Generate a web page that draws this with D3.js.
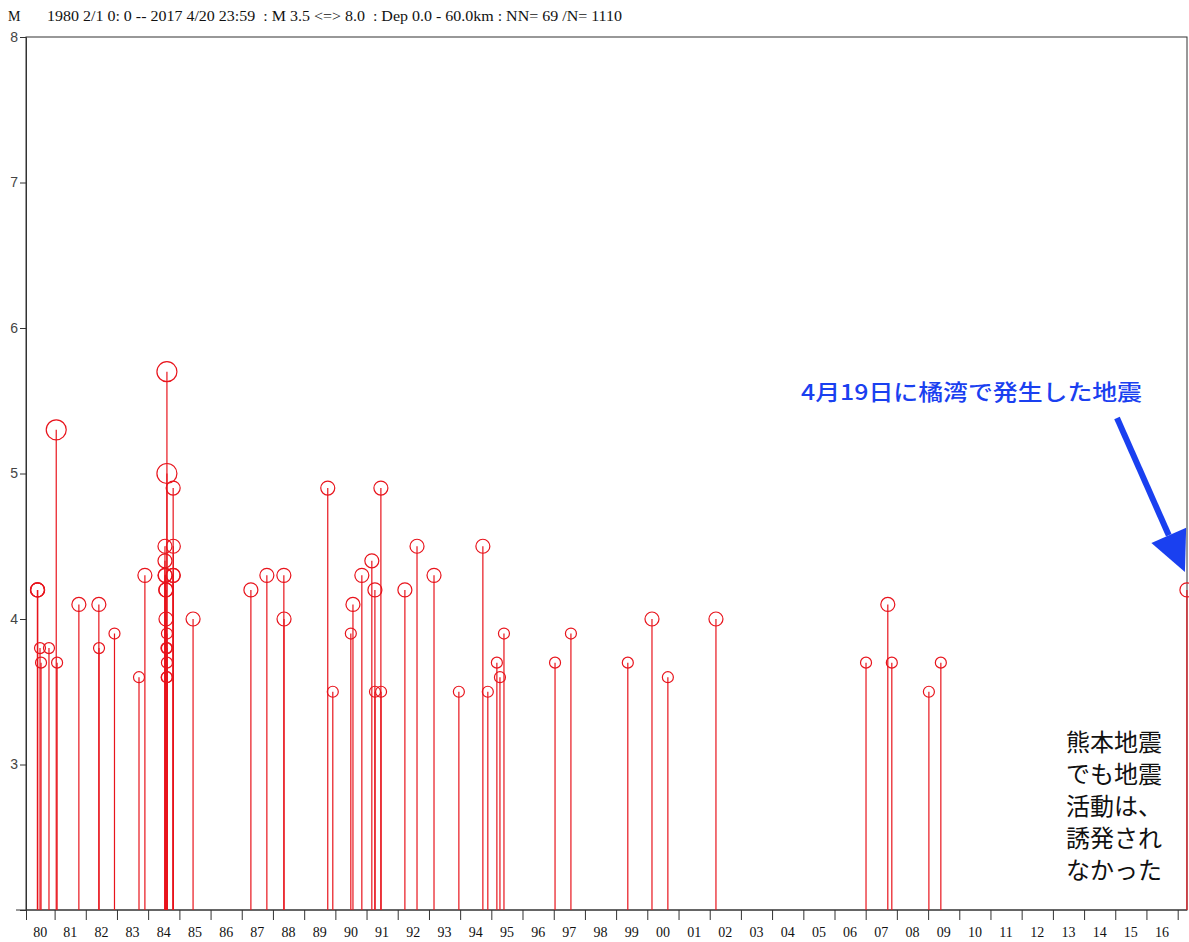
<!DOCTYPE html>
<html lang="ja">
<head>
<meta charset="UTF-8">
<title>M-T図</title>
<script src="https://d3js.org/d3.v7.min.js"></script>
<style>
  body { margin: 0; background: #fff; }
  svg { display: block; }
  .serif { font-family: "Liberation Serif", "DejaVu Serif", serif; fill: #111; }
  .jp { font-family: "Noto Sans CJK JP", sans-serif; }
</style>
</head>
<body>
<div id="chart"></div>
<script>
// 地震のデータ（発生日とマグニチュード）
const eventDates = [
  "1980-06-14", "1980-06-15", "1980-06-16", "1980-07-14", "1980-07-26", "1980-10-27",
  "1981-01-20", "1981-01-30", "1981-10-12",
  "1982-06-03", "1982-06-05", "1982-12-03",
  "1983-09-16", "1983-11-24",
  "1984-08-08", "1984-08-08", "1984-10-20", "1984-07-16", "1984-10-22", "1984-07-16",
  "1984-07-16", "1984-10-22", "1984-07-28", "1984-07-28", "1984-08-08", "1984-08-08",
  "1984-08-08", "1984-08-08", "1984-07-20", "1984-07-25", "1984-08-02", "1984-08-05",
  "1984-10-18",
  "1985-06-10",
  "1987-04-18", "1987-10-22",
  "1988-05-08", "1988-05-10",
  "1989-10-04", "1989-12-02",
  "1990-07-01", "1990-07-26", "1990-11-07",
  "1991-03-04", "1991-04-09", "1991-04-10", "1991-06-18", "1991-06-20",
  "1992-03-25", "1992-08-14",
  "1993-03-01", "1993-12-17",
  "1994-09-24", "1994-11-21",
  "1995-03-07", "1995-04-12", "1995-05-29",
  "1997-01-16", "1997-07-21",
  "1999-05-18",
  "2000-02-25", "2000-08-29",
  "2002-03-15",
  "2007-01-05", "2007-09-17", "2007-11-03",
  "2009-01-10", "2009-05-30",
  "2017-04-19"
];
const magnitudes = [
  4.2, 4.2, 4.2, 3.8, 3.7, 3.8,
  5.3, 3.7, 4.1,
  4.1, 3.8, 3.9,
  3.6, 4.3,
  5.7, 5.0, 4.9, 4.5, 4.5, 4.4,
  4.3, 4.3, 4.2, 4.0, 3.9, 3.8,
  3.7, 3.6, 4.3, 4.2, 3.8, 3.6,
  4.3,
  4.0,
  4.2, 4.3,
  4.3, 4.0,
  4.9, 3.5,
  3.9, 4.1, 4.3,
  4.4, 4.2, 3.5, 4.9, 3.5,
  4.2, 4.5,
  4.3, 3.5,
  4.5, 3.5,
  3.7, 3.6, 3.9,
  3.7, 3.9,
  3.7,
  4.0, 3.6,
  4.0,
  3.7, 4.1, 3.7,
  3.5, 3.7,
  4.2
];
const magTicks = [3, 4, 5, 6, 7, 8];
const labelYears = d3.range(1980, 2017);
const periodStart = "1980-02-01";
const periodEnd = "2017-04-20";
const headerText = "1980 2/1 0: 0 -- 2017 4/20 23:59  : M 3.5 <=> 8.0  : Dep 0.0 - 60.0km : NN= 69 /N= 1110";
const arrowLabel = "4月19日に橘湾で発生した地震";
const noteLines = ["熊本地震", "でも地震", "活動は、", "誘発され", "なかった"];

const W = 1189, H = 942;
const plotL = 26, plotR = 1187, plotT = 37, plotB = 910;
const parse = d3.timeParse("%Y-%m-%d");

const data = eventDates.map((d, i) => ({ date: parse(d), mag: magnitudes[i] }));

const svg = d3.select("#chart").append("svg")
  .attr("width", W).attr("height", H);

const x = d3.scaleTime()
  .domain([parse(periodStart), parse(periodEnd)])
  .range([plotL, plotR]);
const y = d3.scaleLinear().domain([2, 8]).range([plotB, plotT]);

// 見出し
svg.append("text").attr("class", "serif")
  .attr("x", 8).attr("y", 21).attr("font-size", 14).text("M");
svg.append("text").attr("class", "serif")
  .attr("x", 47).attr("y", 21).attr("font-size", 14)
  .attr("textLength", 575).attr("lengthAdjust", "spacingAndGlyphs")
  .style("white-space", "pre")
  .text(headerText);

// 枠
svg.append("rect")
  .attr("x", plotL).attr("y", plotT)
  .attr("width", plotR - plotL).attr("height", plotB - plotT)
  .attr("fill", "none").attr("stroke", "#333").attr("stroke-width", 1);

// 縦軸
const yAxis = svg.append("g")
  .attr("transform", `translate(${plotL},0)`)
  .call(d3.axisLeft(y).tickValues(magTicks).tickSize(6).tickFormat(d3.format("d")));
yAxis.select(".domain").attr("stroke", "#333");
yAxis.selectAll(".tick line").attr("stroke", "#333");
yAxis.selectAll(".tick text")
  .attr("font-family", "Liberation Sans, Arial, sans-serif")
  .attr("font-size", 14).attr("fill", "#444").attr("x", -8);

// 横軸（年の区切り）
const yearStarts = [parse(periodStart)].concat(d3.timeYear.range(parse("1981-01-01"), parse("2017-01-02")));
const xAxis = svg.append("g")
  .attr("transform", `translate(0,${plotB})`)
  .call(d3.axisBottom(x).tickValues(yearStarts).tickSize(10).tickFormat(""));
xAxis.select(".domain").attr("d", `M${plotL - 10},0H${plotR}`).attr("stroke", "#333");
xAxis.selectAll(".tick line").attr("stroke", "#333");

svg.append("g").selectAll("text")
  .data(labelYears).join("text")
  .attr("class", "serif")
  .attr("x", d => {
    const a = Math.max(x(new Date(d, 0, 1)), plotL);
    const b = x(new Date(d + 1, 0, 1));
    return (a + b) / 2;
  })
  .attr("y", 937)
  .attr("text-anchor", "middle")
  .attr("font-size", 14)
  .text(d => String(d % 100).padStart(2, "0"));

// 地震（縦線と円）
const red = "#e8141c";
const radius = m => m >= 5 ? 10 : (m >= 4 ? 7 : 5.5);

svg.append("g").selectAll("line")
  .data(data).join("line")
  .attr("x1", d => x(d.date)).attr("x2", d => x(d.date))
  .attr("y1", y(2)).attr("y2", d => y(d.mag))
  .attr("stroke", red).attr("stroke-width", 1.2);

svg.append("g").selectAll("circle")
  .data(data).join("circle")
  .attr("cx", d => x(d.date)).attr("cy", d => y(d.mag))
  .attr("r", d => radius(d.mag))
  .attr("fill", "none").attr("stroke", red).attr("stroke-width", 1.2);

// 注記
const blue = "#1a40f0";
svg.append("text").attr("class", "jp")
  .attr("x", 801).attr("y", 400)
  .attr("font-size", 22).attr("font-weight", 500)
  .attr("fill", blue)
  .attr("textLength", 341).attr("lengthAdjust", "spacingAndGlyphs")
  .text(arrowLabel);

const last = data[data.length - 1];
const tip = [x(last.date) - 2, y(last.mag) - 18];
const from = [1117, 418];
const dx = tip[0] - from[0], dy = tip[1] - from[1];
const len = Math.hypot(dx, dy);
const ux = dx / len, uy = dy / len;
const headLen = 40, headW = 19;
const bx = tip[0] - ux * headLen, by = tip[1] - uy * headLen;
svg.append("line")
  .attr("x1", from[0]).attr("y1", from[1])
  .attr("x2", bx).attr("y2", by)
  .attr("stroke", blue).attr("stroke-width", 6);
svg.append("path")
  .attr("d", d3.line()([
    tip,
    [bx + uy * headW, by - ux * headW],
    [bx - uy * headW, by + ux * headW]
  ]) + "Z")
  .attr("fill", blue);

svg.append("g").selectAll("text")
  .data(noteLines).join("text")
  .attr("class", "jp")
  .attr("x", 1114)
  .attr("y", (d, i) => 751 + i * 32)
  .attr("text-anchor", "middle")
  .attr("font-size", 24)
  .attr("fill", "#111")
  .text(d => d);
</script>
</body>
</html>
